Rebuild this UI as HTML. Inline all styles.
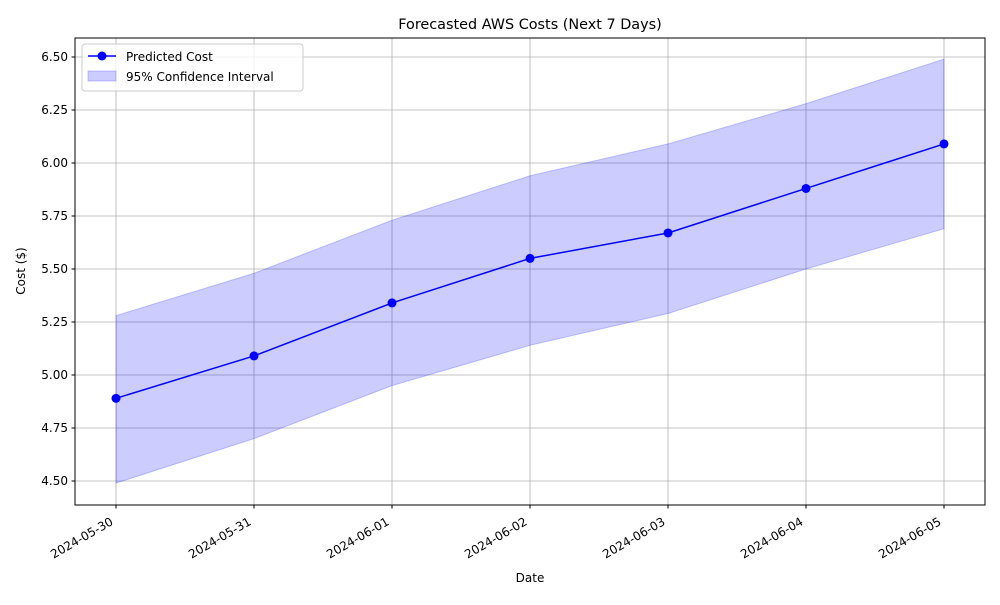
<!DOCTYPE html>
<html><head><meta charset="utf-8"><style>
body{margin:0;background:#fff;}
svg text{font-family:"DejaVu Sans","Liberation Sans",sans-serif;fill:#000;}
</style></head><body>
<svg id="chart" width="1000" height="600" xmlns="http://www.w3.org/2000/svg">
<rect width="1000" height="600" fill="#fff"/>
<text x="530" y="29" font-size="14.4" text-anchor="middle">Forecasted AWS Costs (Next 7 Days)</text>
<g id="grid"></g>
<g id="band"></g>
<g id="line"></g>
<rect x="75" y="38" width="910" height="467" fill="none" stroke="#000" stroke-width="1"/>
<g id="axes"></g>
<text x="530" y="582" font-size="12" text-anchor="middle">Date</text>
<text transform="translate(25,271) rotate(-90)" font-size="12" text-anchor="middle">Cost ($)</text>
<g>
<rect x="82" y="44" width="221" height="47" rx="3" fill="#fff" fill-opacity="0.8" stroke="#ccc"/>
<g>
<line x1="88" y1="56" x2="116" y2="56" stroke="#0000ff" stroke-width="1.5"/>
<circle cx="102" cy="56" r="4.5" fill="#0000ff"/>
<text x="126" y="61" font-size="12">Predicted Cost</text>
</g>
<g>
<rect x="88" y="71" width="28" height="10" fill="#0000ff" fill-opacity="0.2" stroke="#0000ff" stroke-opacity="0.2"/>
<text x="126" y="81" font-size="12">95% Confidence Interval</text>
</g>
</g>
</svg>
<script>
const dates=["2024-05-30","2024-05-31","2024-06-01","2024-06-02","2024-06-03","2024-06-04","2024-06-05"];
const predicted=[4.89,5.09,5.34,5.55,5.67,5.88,6.09];
const upper=[5.28,5.48,5.73,5.94,6.09,6.28,6.49];
const lower=[4.49,4.70,4.95,5.14,5.29,5.50,5.69];
const yTicks=[4.50,4.75,5.00,5.25,5.50,5.75,6.00,6.25,6.50];
const NS="http://www.w3.org/2000/svg";
function xs(i){return 116+i*138;}
function ys(v){return 481-(v-4.5)*212;}
function mk(t,a,p){const e=document.createElementNS(NS,t);for(const k in a)e.setAttribute(k,a[k]);p.appendChild(e);return e;}
const grid=document.getElementById('grid'),axes=document.getElementById('axes');
yTicks.forEach(v=>{const y=ys(v);
const g=mk('line',{x1:75,x2:985,y1:y,y2:y,stroke:'#b0b0b0','stroke-width':0.8},grid);


mk('line',{x1:71.5,x2:75,y1:y,y2:y,stroke:'#000'},axes);
const t=mk('text',{x:68,y:y+4,'font-size':12,'text-anchor':'end'},axes);t.textContent=v.toFixed(2);

});
dates.forEach((d,i)=>{const x=xs(i);
const g=mk('line',{x1:x,x2:x,y1:38,y2:505,stroke:'#b0b0b0','stroke-width':0.8},grid);


mk('line',{x1:x,x2:x,y1:505,y2:508.5,stroke:'#000'},axes);
const t=mk('text',{transform:`translate(${x-2},${524}) rotate(-30)`,'font-size':12,'text-anchor':'end'},axes);t.textContent=d;

});
let pts=upper.map((v,i)=>xs(i)+','+ys(v));
for(let i=lower.length-1;i>=0;i--)pts.push(xs(i)+','+ys(lower[i]));
const band=mk('polygon',{points:pts.join(' '),fill:'#0000ff','fill-opacity':0.2,stroke:'#0000ff','stroke-opacity':0.2},document.getElementById('band'));


const lg=document.getElementById('line');
const pl=mk('polyline',{points:predicted.map((v,i)=>xs(i)+','+ys(v)).join(' '),fill:'none',stroke:'#0000ff','stroke-width':1.5},lg);


predicted.forEach((v,i)=>{const c=mk('circle',{cx:xs(i),cy:ys(v),r:4.5,fill:'#0000ff'},lg);

});
</script>
</body></html>
